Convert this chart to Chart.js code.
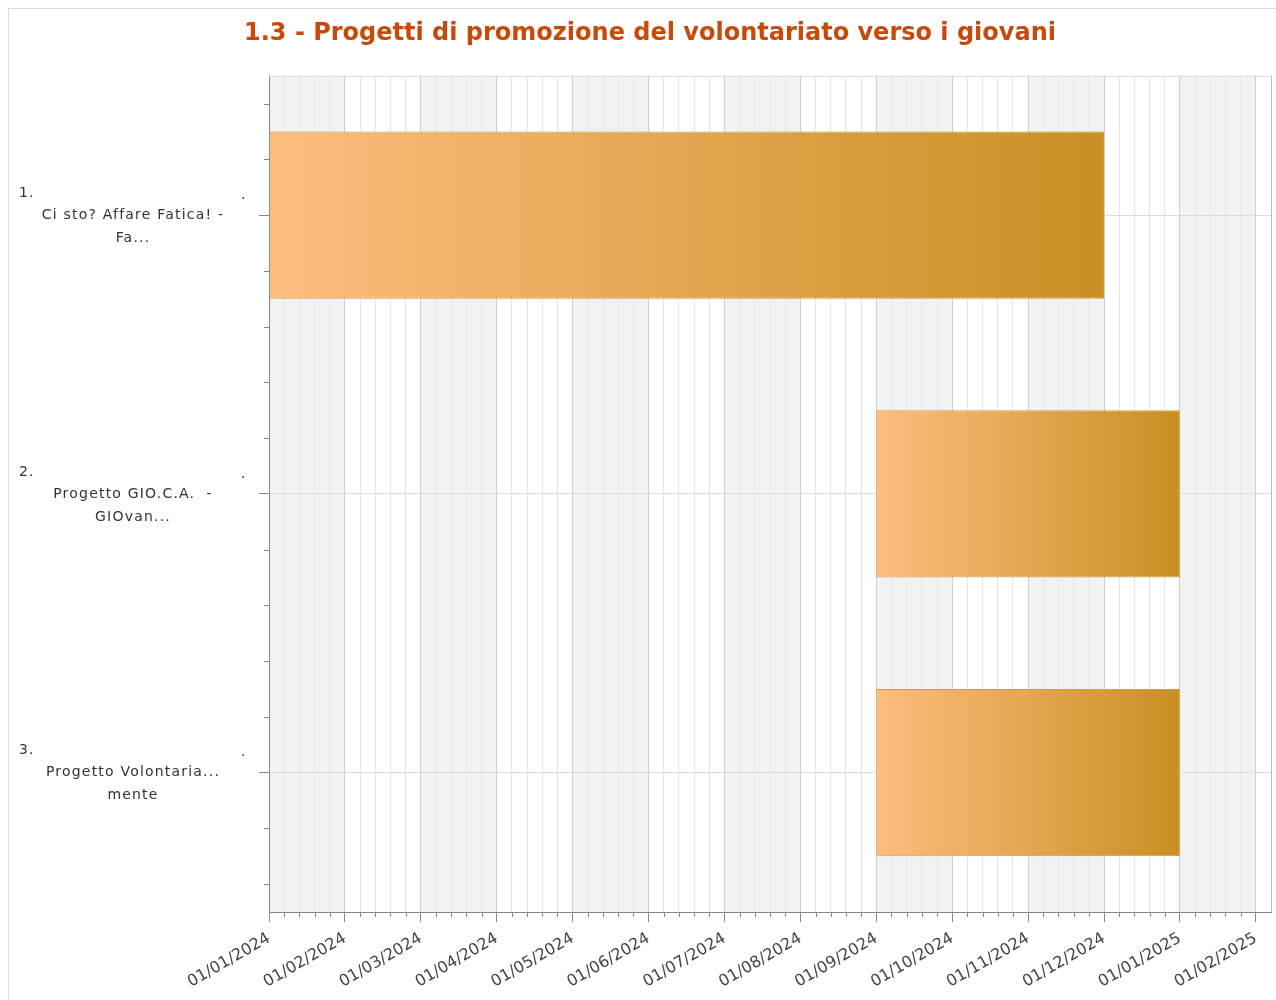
<!DOCTYPE html>
<html>
<head>
<meta charset="utf-8">
<script src="https://cdn.jsdelivr.net/npm/chart.js@4"></script>
<style>
  html, body { margin: 0; padding: 0; background: #fff; overflow: hidden; }
  #wrap { position: relative; width: 1276px; height: 1000px; overflow: hidden; }
  #frame { position: absolute; left: 8px; top: 8px; width: 1300px; height: 1100px; border: 1px solid #dcdcdc; pointer-events: none; }
</style>
</head>
<body>
<div id="wrap">
  <canvas id="gantt" width="1276" height="1000"></canvas>
  <div id="frame"></div>
</div>
<script>
// dati del grafico
const chartTitle = '1.3 - Progetti di promozione del volontariato verso i giovani';
const rowNumbers = ['1.', '2.', '3.'];
const rowNames = [
    ['Ci sto? Affare Fatica! -', 'Fa...'],
    ['Progetto GIO.C.A.  -', 'GIOvan...'],
    ['Progetto Volontaria...', 'mente']
];
// mesi dall'01/01/2024
const startMonth = [0, 8, 8];
const endMonth = [11, 12, 12];
const monthLabels = ['01/01/2024', '01/02/2024', '01/03/2024', '01/04/2024', '01/05/2024', '01/06/2024',
    '01/07/2024', '01/08/2024', '01/09/2024', '01/10/2024', '01/11/2024', '01/12/2024', '01/01/2025', '01/02/2025'];
const axisMax = 13.2;

function isMajor(v) {
    return Math.abs(v - Math.round(v)) < 1e-6;
}

function barGradient(ctx) {
    const chart = ctx.chart;
    if (!chart.chartArea || !ctx.raw) return '#e8a850';
    const x = chart.scales.x;
    const l = x.getPixelForValue(ctx.raw[0]);
    const r = x.getPixelForValue(ctx.raw[1]);
    const g = chart.ctx.createLinearGradient(l, 0, r, 0);
    g.addColorStop(0, '#fdbd7f');
    g.addColorStop(1, '#c98f22');
    return g;
}

// fasce alternate, bordo superiore, tacche minori ed etichette delle righe
const ganttDecor = {
    id: 'ganttDecor',
    beforeDraw(chart) {
        const { ctx, chartArea: a, scales } = chart;
        ctx.save();
        ctx.fillStyle = '#f2f2f2';
        for (let m = 0; m < monthLabels.length; m += 2) {
            const l = scales.x.getPixelForValue(m);
            const r = Math.min(scales.x.getPixelForValue(m + 1), a.right);
            ctx.fillRect(l, a.top, r - l, a.bottom - a.top);
        }
        ctx.restore();
    },
    afterDraw(chart) {
        const { ctx, chartArea: a, scales } = chart;
        ctx.save();
        ctx.strokeStyle = '#dcdcdc';
        ctx.lineWidth = 1;
        ctx.beginPath();
        ctx.moveTo(a.left, a.top + 0.5);
        ctx.lineTo(a.right, a.top + 0.5);
        ctx.stroke();

        ctx.strokeStyle = '#888';
        ctx.beginPath();
        scales.x.ticks.forEach(t => {
            if (isMajor(t.value) || t.value >= axisMax) return;
            const px = Math.round(scales.x.getPixelForValue(t.value)) + 0.5;
            ctx.moveTo(px, a.bottom);
            ctx.lineTo(px, a.bottom + 5);
        });
        const band = (scales.y.getPixelForValue(1) - scales.y.getPixelForValue(0)) / 5;
        rowNumbers.forEach((n, i) => {
            const cy = scales.y.getPixelForValue(i);
            [-2, -1, 1, 2].forEach(k => {
                const py = Math.round(cy + k * band) + 0.5;
                ctx.moveTo(a.left - 5, py);
                ctx.lineTo(a.left, py);
            });
        });
        ctx.stroke();

        ctx.fillStyle = '#333';
        ctx.font = '14px "DejaVu Sans"';
        ctx.letterSpacing = '1.2px';
        ctx.textBaseline = 'middle';
        rowNumbers.forEach((n, i) => {
            const cy = scales.y.getPixelForValue(i);
            ctx.textAlign = 'left';
            ctx.fillText(n, 19, cy - 22);
            ctx.fillText('.', 241, cy - 20);
            ctx.textAlign = 'center';
            ctx.fillText(rowNames[i][0], 133, cy);
            ctx.fillText(rowNames[i][1], 133, cy + 23);
        });
        ctx.restore();
    }
};

new Chart(document.getElementById('gantt'), {
    type: 'bar',
    data: {
        labels: rowNumbers,
        datasets: [{
            data: startMonth.map((s, i) => [s, endMonth[i]]),
            backgroundColor: barGradient,
            borderColor: '#d49a3e',
            borderWidth: 1,
            borderSkipped: false,
            barPercentage: 0.6,
            categoryPercentage: 1
        }]
    },
    plugins: [ganttDecor],
    options: {
        indexAxis: 'y',
        responsive: false,
        animation: false,
        layout: { padding: { left: 29, right: 5, top: 10, bottom: 0 } },
        plugins: {
            legend: { display: false },
            tooltip: { enabled: false },
            title: {
                display: true,
                text: chartTitle,
                color: '#c84a0a',
                font: { family: '"DejaVu Sans", sans-serif', size: 24, weight: 'bold' },
                padding: { top: 9, bottom: 28 }
            }
        },
        scales: {
            x: {
                type: 'linear',
                min: 0,
                max: axisMax,
                afterFit: s => { s.height = 88; s.paddingRight = 0; },
                border: { color: '#888', width: 1 },
                grid: {
                    color: c => c.tick.value >= axisMax ? '#bdbdbd' : (isMajor(c.tick.value) ? '#cfcfcf' : '#e6e6e6'),
                    tickLength: 10,
                    tickColor: c => isMajor(c.tick.value) ? '#888' : 'rgba(0,0,0,0)'
                },
                ticks: {
                    stepSize: 0.2,
                    includeBounds: false,
                    autoSkip: false,
                    minRotation: 30,
                    maxRotation: 30,
                    padding: 7,
                    color: '#444',
                    font: { family: '"DejaVu Sans"', size: 16 },
                    callback: v => {
                        const r = Math.round(v);
                        return isMajor(v) && r < monthLabels.length ? monthLabels[r] : '';
                    }
                }
            },
            y: {
                type: 'category',
                offset: true,
                afterFit: s => { s.width = 240; },
                border: { color: '#888', width: 1 },
                grid: { offset: false, color: '#dcdcdc', tickLength: 10, tickColor: '#888' },
                ticks: { display: false }
            }
        }
    }
});
</script>
</body>
</html>
